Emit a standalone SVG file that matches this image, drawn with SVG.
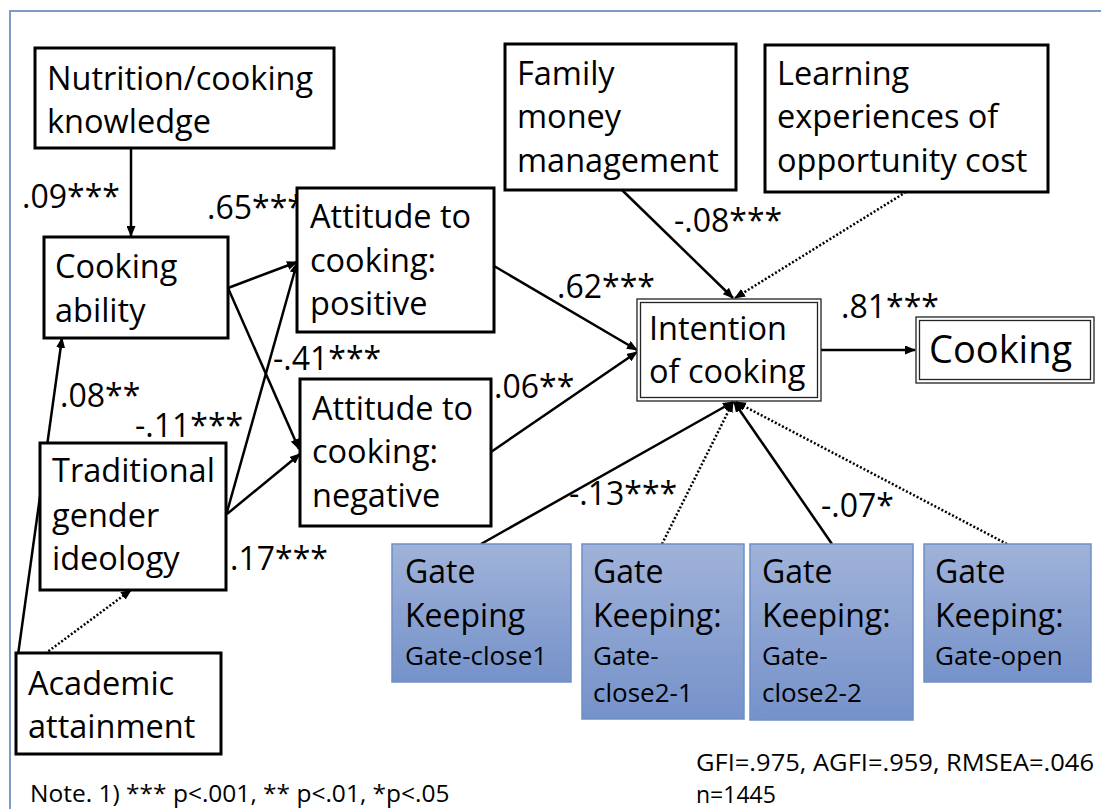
<svg xmlns="http://www.w3.org/2000/svg" width="1101" height="809" viewBox="0 0 1101 809">
<style>
.box{fill:#fff;stroke:#000;stroke-width:3}
.dbl{fill:none;stroke:#222;stroke-width:1.3}
.gate{fill:url(#gg);stroke:#6f8fc8;stroke-width:1.5}
.t{font-family:"Open Sans","Liberation Sans",sans-serif;font-size:32.5px;fill:#000}
.g{font-family:"Open Sans","Liberation Sans",sans-serif;font-size:32px;fill:#000}
.gs{font-family:"Open Sans","Liberation Sans",sans-serif;font-size:26px;fill:#000}
.lbl{font-family:"Open Sans","Liberation Sans",sans-serif;font-size:32px;fill:#000}
.small{font-family:"Open Sans","Liberation Sans",sans-serif;font-size:23px;fill:#000}
.ln{fill:none;stroke:#000;stroke-width:2.5;marker-end:url(#ah)}
.dot{fill:none;stroke:#000;stroke-width:2.5;stroke-dasharray:2 2;marker-end:url(#ah)}
</style>
<defs>
<linearGradient id="gg" x1="0" y1="0" x2="0" y2="1">
<stop offset="0" stop-color="#a0b2d9"/>
<stop offset="1" stop-color="#7592ca"/>
</linearGradient>
<marker id="ah" markerUnits="userSpaceOnUse" markerWidth="11" markerHeight="9" refX="10" refY="4.5" orient="auto">
<path d="M0,0 L11,4.5 L0,9 z" fill="#000"/>
</marker>
</defs>
<rect width="1101" height="809" fill="#fff"/>
<path d="M10,809 L10,11 L1101,11" fill="none" stroke="#7a9cc6" stroke-width="2"/>

<g id="connectors">
<path class="ln" d="M131,148 L131,236"/>
<path class="ln" d="M228,288 L297,262"/>
<path class="ln" d="M228,288 L299,449"/>
<path class="ln" d="M227,512 L297,263"/>
<path class="ln" d="M227,514 L300,454"/>
<path class="ln" d="M18,655 L62,338"/>
<path class="dot" d="M42,656 L131,590"/>
<path class="ln" d="M494,266 L637,350"/>
<path class="ln" d="M491,452 L637,352"/>
<path class="ln" d="M622,190 L733,298"/>
<path class="dot" d="M906,192 L735,298"/>
<path class="ln" d="M821,350 L915,350"/>
<path class="ln" d="M481,544 L733,402"/>
<path class="dot" d="M662,544 L733,402"/>
<path class="ln" d="M832,544 L734,402"/>
<path class="dot" d="M1007,544 L736,402"/>
</g>

<g id="labels">
<text class="lbl" x="22" y="208">.09***</text>
<text class="lbl" x="207" y="219">.65***</text>
<text class="lbl" x="557" y="298">.62***</text>
<text class="lbl" x="674" y="232">-.08***</text>
<text class="lbl" x="841" y="318">.81***</text>
<text class="lbl" x="273" y="370">-.41***</text>
<text class="lbl" x="60" y="407">.08**</text>
<text class="lbl" x="135" y="437">-.11***</text>
<text class="lbl" x="230" y="570">.17***</text>
<text class="lbl" x="494" y="398">.06**</text>
<text class="lbl" x="569" y="505">-.13***</text>
<text class="lbl" x="821" y="517">-.07*</text>
</g>

<g id="nutrition">
<rect class="box" x="35" y="48" width="299" height="100"/>
<text class="t" x="47" y="90">Nutrition/cooking</text>
<text class="t" x="47" y="133">knowledge</text>
</g>
<g id="cooking-ability">
<rect class="box" x="44" y="237" width="184" height="101"/>
<text class="t" x="55" y="278">Cooking</text>
<text class="t" x="55" y="322">ability</text>
</g>
<g id="attitude-positive">
<rect class="box" x="297" y="188" width="197" height="144"/>
<text class="t" x="310" y="228">Attitude to</text>
<text class="t" x="310" y="272">cooking:</text>
<text class="t" x="310" y="315">positive</text>
</g>
<g id="attitude-negative">
<rect class="box" x="300" y="379" width="191" height="147"/>
<text class="t" x="312" y="420">Attitude to</text>
<text class="t" x="312" y="463">cooking:</text>
<text class="t" x="312" y="507">negative</text>
</g>
<g id="traditional">
<rect class="box" x="40" y="443" width="186" height="147"/>
<text class="t" x="52" y="482">Traditional</text>
<text class="t" x="52" y="527">gender</text>
<text class="t" x="52" y="570">ideology</text>
</g>
<g id="academic">
<rect class="box" x="16" y="653" width="205" height="101"/>
<text class="t" x="28" y="695">Academic</text>
<text class="t" x="28" y="738">attainment</text>
</g>
<g id="family">
<rect class="box" x="505" y="44" width="231" height="146"/>
<text class="t" x="517" y="85">Family</text>
<text class="t" x="517" y="128">money</text>
<text class="t" x="517" y="172">management</text>
</g>
<g id="learning">
<rect class="box" x="765" y="45" width="283" height="147"/>
<text class="t" x="777" y="85">Learning</text>
<text class="t" x="777" y="128">experiences of</text>
<text class="t" x="777" y="172">opportunity cost</text>
</g>
<g id="intention">
<rect x="637" y="299" width="184" height="102" fill="#fff"/>
<rect class="dbl" x="637" y="299" width="184" height="102"/>
<rect class="dbl" x="640.5" y="302.5" width="177" height="95"/>
<text class="t" x="649" y="340">Intention</text>
<text class="t" x="649" y="383">of cooking</text>
</g>
<g id="cooking">
<rect x="916" y="317" width="178" height="66" fill="#fff"/>
<rect class="dbl" x="916" y="317" width="178" height="66"/>
<rect class="dbl" x="919.5" y="320.5" width="171" height="59"/>
<text class="t" x="929" y="363" style="font-size:38px">Cooking</text>
</g>
<g id="gate1">
<rect class="gate" x="392" y="544" width="179" height="138"/>
<text class="g" x="405" y="583">Gate</text>
<text class="g" x="405" y="627">Keeping</text>
<text class="gs" x="405" y="665">Gate-close1</text>
</g>
<g id="gate2">
<rect class="gate" x="582" y="544" width="162" height="175"/>
<text class="g" x="593" y="583">Gate</text>
<text class="g" x="593" y="627">Keeping:</text>
<text class="gs" x="593" y="665">Gate-</text>
<text class="gs" x="593" y="702">close2-1</text>
</g>
<g id="gate3">
<rect class="gate" x="750" y="544" width="163" height="176"/>
<text class="g" x="762" y="583">Gate</text>
<text class="g" x="762" y="627">Keeping:</text>
<text class="gs" x="762" y="665">Gate-</text>
<text class="gs" x="762" y="702">close2-2</text>
</g>
<g id="gate4">
<rect class="gate" x="924" y="544" width="167" height="138"/>
<text class="g" x="935" y="583">Gate</text>
<text class="g" x="935" y="627">Keeping:</text>
<text class="gs" x="935" y="665">Gate-open</text>
</g>

<g id="notes">
<text class="small" x="696" y="771" textLength="398" lengthAdjust="spacingAndGlyphs">GFI=.975, AGFI=.959, RMSEA=.046</text>
<text class="small" x="696" y="803">n=1445</text>
<text class="small" x="30" y="802" style="font-size:24.5px">Note. 1) *** p&lt;.001, ** p&lt;.01, *p&lt;.05</text>
</g>
</svg>
